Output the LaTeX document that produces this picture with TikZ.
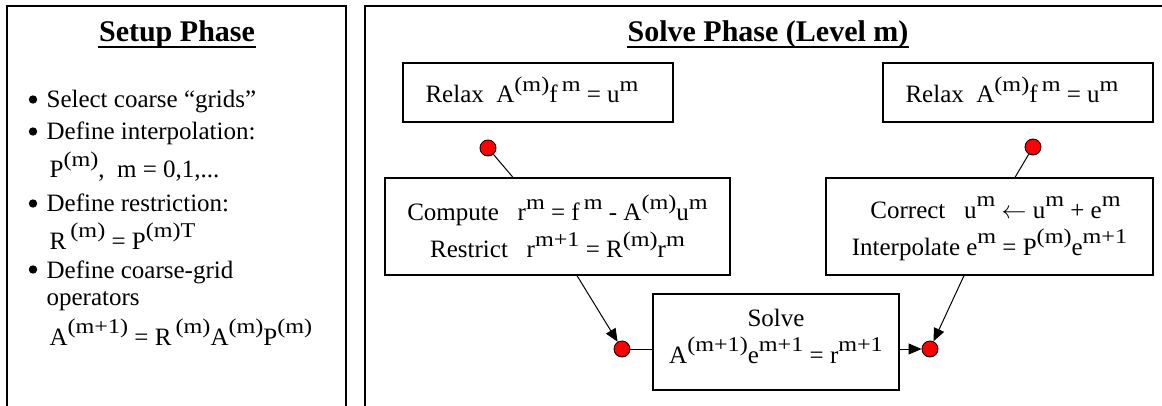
\documentclass[tikz,border=0pt]{standalone}
\usepackage{fontspec}
\usepackage{graphicx}
\setmainfont{Liberation Serif}
\usetikzlibrary{arrows.meta}

\newcommand\sps[1]{\raisebox{11.5pt}{\scalebox{1.15}[1]{\fontsize{21}{21}\selectfont #1}}}
\newcommand\dn[1]{\rule[-#1]{0pt}{#1}}

\begin{document}
\begin{tikzpicture}[x=1pt, y=-1pt, line width=1.2pt, line join=miter,
  txt/.style={inner sep=0pt, anchor=base west, font=\fontsize{25}{30}\selectfont},
  ttl/.style={inner sep=0pt, anchor=base, font=\fontsize{30}{36}\selectfont\bfseries},
  stepbox/.style={draw, line width=1.2pt, align=center, inner sep=0pt, font=\fontsize{25}{37}\selectfont},
  reddot/.style={circle, draw, fill=red, line width=0.9pt, minimum size=16pt, inner sep=0pt},
  flow/.style={-{Triangle[length=13pt,width=11pt]}, line width=1pt}]

  %% ════ panels ════
  \draw[line width=1.6pt] (7,406) -- (7,6) -- (346,6) -- (346,406);
  \draw[line width=1.6pt] (365,406) -- (365,6) -- (1162,6);

  %% ════ titles ════
  \node[ttl] (setupT) at (177,42) {Setup Phase};
  \node[ttl] (solveT) at (768,42) {Solve Phase (Level m)};
  \draw[line width=2pt] ([yshift=-5pt]setupT.base west) -- ([yshift=-5pt]setupT.base east);
  \draw[line width=2pt] ([yshift=-5pt]solveT.base west) -- ([yshift=-5pt]solveT.base east);

  %% ════ setup list ════
  \node[txt] (l1) at (46,108) {Select coarse “grids”};
  \node[txt] (l2) at (46,140) {Define interpolation:};
  \node[txt] (l3) at (49,178) {P\sps{(m)},\enspace m = 0,1,...};
  \node[txt] (l4) at (46,212) {Define restriction:};
  \node[txt] (l5) at (49,249) {R\,\sps{(m)} = P\sps{(m)T}};
  \node[txt] (l6) at (46,278) {Define coarse-grid};
  \node[txt] (l7) at (46,305) {operators};
  \node[txt] (l8) at (49,345) {A\sps{(m+1)} = R\,\sps{(m)}A\sps{(m)}P\sps{(m)}};
  \foreach \l in {l1,l2,l4,l6}
    \fill ([xshift=-13pt,yshift=8.5pt]\l.base west) circle (4.2pt);

  %% ════ solve boxes ════
  \node[stepbox, minimum width=270pt, minimum height=59pt] (relaxL) at (538,92.5)
    {Relax\enspace A\sps{(m)}f\,\sps{m} = u\sps{m}\hspace{12pt}\dn{6pt}};
  \node[stepbox, minimum width=270pt, minimum height=59pt] (relaxR) at (1018,92.5)
    {Relax\enspace A\sps{(m)}f\,\sps{m} = u\sps{m}\hspace{12pt}\dn{6pt}};
  \node[stepbox, minimum width=345pt, minimum height=97pt] (compute) at (557.5,226.5)
    {Compute\enspace\ r\sps{m} = f\,\sps{m} - A\sps{(m)}u\sps{m}\\
     Restrict\enspace\ r\sps{m+1} = R\sps{(m)}r\sps{m}};
  \node[stepbox, minimum width=327pt, minimum height=97pt] (correct) at (989.5,226.5)
    {\rule{0pt}{26pt}\hspace{12pt}Correct\enspace\ u\sps{m} $\leftarrow$ u\sps{m} + e\sps{m}\\
     Interpolate e\sps{m} = P\sps{(m)}e\sps{m+1}};
  \node[stepbox, minimum width=246pt, minimum height=96pt] (solve) at (776,342)
    {Solve\\ A\sps{(m+1)}e\sps{m+1} = r\sps{m+1}\dn{12pt}};

  %% ════ red dots ════
  \node[reddot] (dA) at (488,148) {};
  \node[reddot] (dB) at (1033,147) {};
  \node[reddot] (dC) at (622,349) {};
  \node[reddot] (dD) at (930,349) {};

  %% ════ connectors ════
  \draw[line width=1pt] (dA) -- ([xshift=-44.5pt]compute.north);
  \draw[line width=1pt] (dB) -- ([xshift=25.5pt]correct.north);
  \draw[flow] ([xshift=19.5pt]compute.south) -- (dC);
  \draw[flow] ([xshift=-25.5pt]correct.south) -- (dD);
  \draw[line width=1pt] (dC) -- (dC -| solve.west);
  \draw[flow] (solve.east |- dD) -- (dD);

  \pgfresetboundingbox
  \path[use as bounding box] (0,0) rectangle (1162,406);
\end{tikzpicture}
\end{document}
